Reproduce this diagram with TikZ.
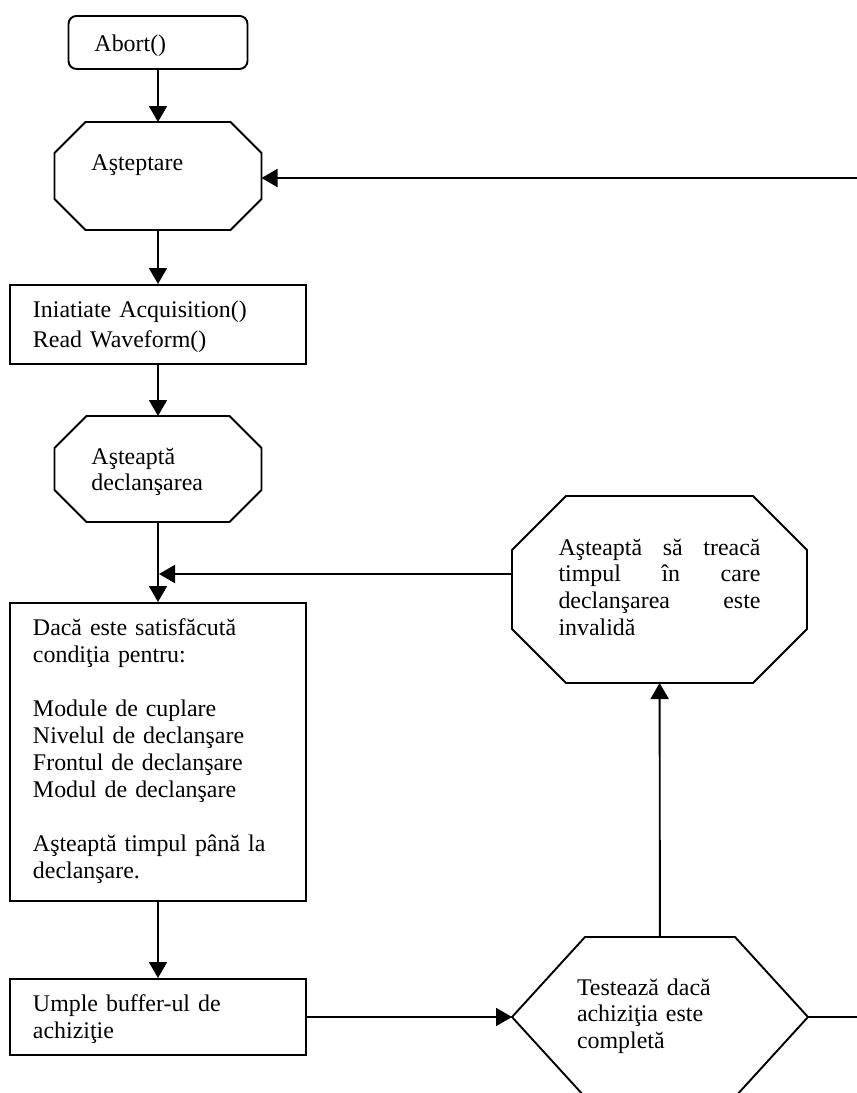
\documentclass[tikz,border=0pt]{standalone}
\usepackage{fontspec}
\setmainfont{Liberation Serif}
\usepackage{tikz}
\usetikzlibrary{positioning, arrows.meta}
\tikzstyle{startbox} = [rectangle, rounded corners=8bp, draw=black, line width=1.9bp, align=left, inner ysep=0pt]
\tikzstyle{procbox} = [rectangle, draw=black, line width=1.9bp, align=left, inner ysep=0pt, inner xsep=23bp, text width=250bp]
\tikzstyle{waitbox} = [rectangle, draw=none, align=left, inner ysep=0pt, outer sep=0pt]
\tikzstyle{arrow} = [line width=1.9bp,->,>={Triangle[length=16bp,width=18bp]}]
\tikzstyle{line} = [line width=1.9bp]
% octagon drawn round a named node: #1 node, #2 corner cut
\newcommand{\drawoctagon}[2]{\draw [line] ([xshift=#2]#1.north west) -- ([xshift=-#2]#1.north east) -- ([yshift=-#2]#1.north east) -- ([yshift=#2]#1.south east) -- ([xshift=-#2]#1.south east) -- ([xshift=#2]#1.south west) -- ([yshift=#2]#1.south west) -- ([yshift=-#2]#1.north west) -- cycle;}

\begin{document}
\begin{tikzpicture}[x=1bp, y=-1bp, font=\fontsize{24}{27}\selectfont]
	\useasboundingbox (0,0) rectangle (857,1093);
	\clip (0,0) rectangle (857,1093);
	
	% left column
	\node (abort) [startbox, anchor=north, text width=127bp, inner xsep=26bp, text height=36bp, text depth=17bp] at (158,15) {Abort()};
	\node (wait) [waitbox, anchor=north, text width=133bp, inner xsep=37bp, text height=48bp, text depth=60bp] at (158,122) {Aşteptare};
	\node (init) [procbox, anchor=north, text height=33bp, text depth=46bp, font=\fontsize{24}{30}\selectfont] at (158,284) {Iniatiate Acquisition()\\ Read Waveform()};
	\node (trig) [waitbox, anchor=north, text width=133bp, inner xsep=37bp, text height=48bp, text depth=58bp] at (158,416) {Aşteaptă\\ declanşarea};
	\node (cond) [procbox, anchor=north, text height=33bp, text depth=265bp] at (158,602) {Dacă este satisfăcută\\ condiţia pentru:\\[27bp] Module de cuplare\\ Nivelul de declanşare\\ Frontul de declanşare\\ Modul de declanşare\\[27bp] Aşteaptă timpul până la\\ declanşare.};
	\node (fill) [procbox, anchor=north, text height=33bp, text depth=43bp] at (158,978) {Umple buffer-ul de\\ achiziţie};
	
	% right column
	\node (holdoff) [waitbox, anchor=north, text width=202bp, inner xsep=46.5bp, text height=59bp, text depth=128bp] at (659.5,496) {Aşteaptă\hfill să\hfill treacă\\ timpul\hfill în\hfill care\\ declanşarea\hfill este\\ invalidă};
	\node (test) [waitbox, anchor=north, text width=166bp, inner xsep=65bp, text height=58bp, text depth=102bp] at (660,937) {Testează dacă\\ achiziţia este\\ completă};
	
	\coordinate (backin) at (857,178);
	\coordinate (join) at (159,574);
	\coordinate (out) at (857,1017);
	
	\drawoctagon{wait}{31bp}
	\drawoctagon{trig}{32bp}
	\drawoctagon{holdoff}{54bp}
	\draw [line] (test.west) -- ([xshift=73bp]test.north west) -- ([xshift=-73bp]test.north east) -- (test.east) -- ([xshift=-73bp]test.south east) -- ([xshift=73bp]test.south west) -- cycle; % hexagon
	
	\draw [arrow] (abort) -- (wait);
	\draw [arrow] (wait) -- (init);
	\draw [arrow] (init) -- (trig);
	\draw [arrow] (trig) -- (cond);
	\draw [arrow] (cond) -- (fill);
	\draw [arrow] (fill) -- (test);
	\draw [arrow] (test) -- (holdoff);
	\draw [arrow] (holdoff.west |- join) -- (join);
	\draw [arrow] (backin) -- (backin -| wait.east);
	\draw [line] (test.east) -- (out);
	
\end{tikzpicture}
\end{document}
